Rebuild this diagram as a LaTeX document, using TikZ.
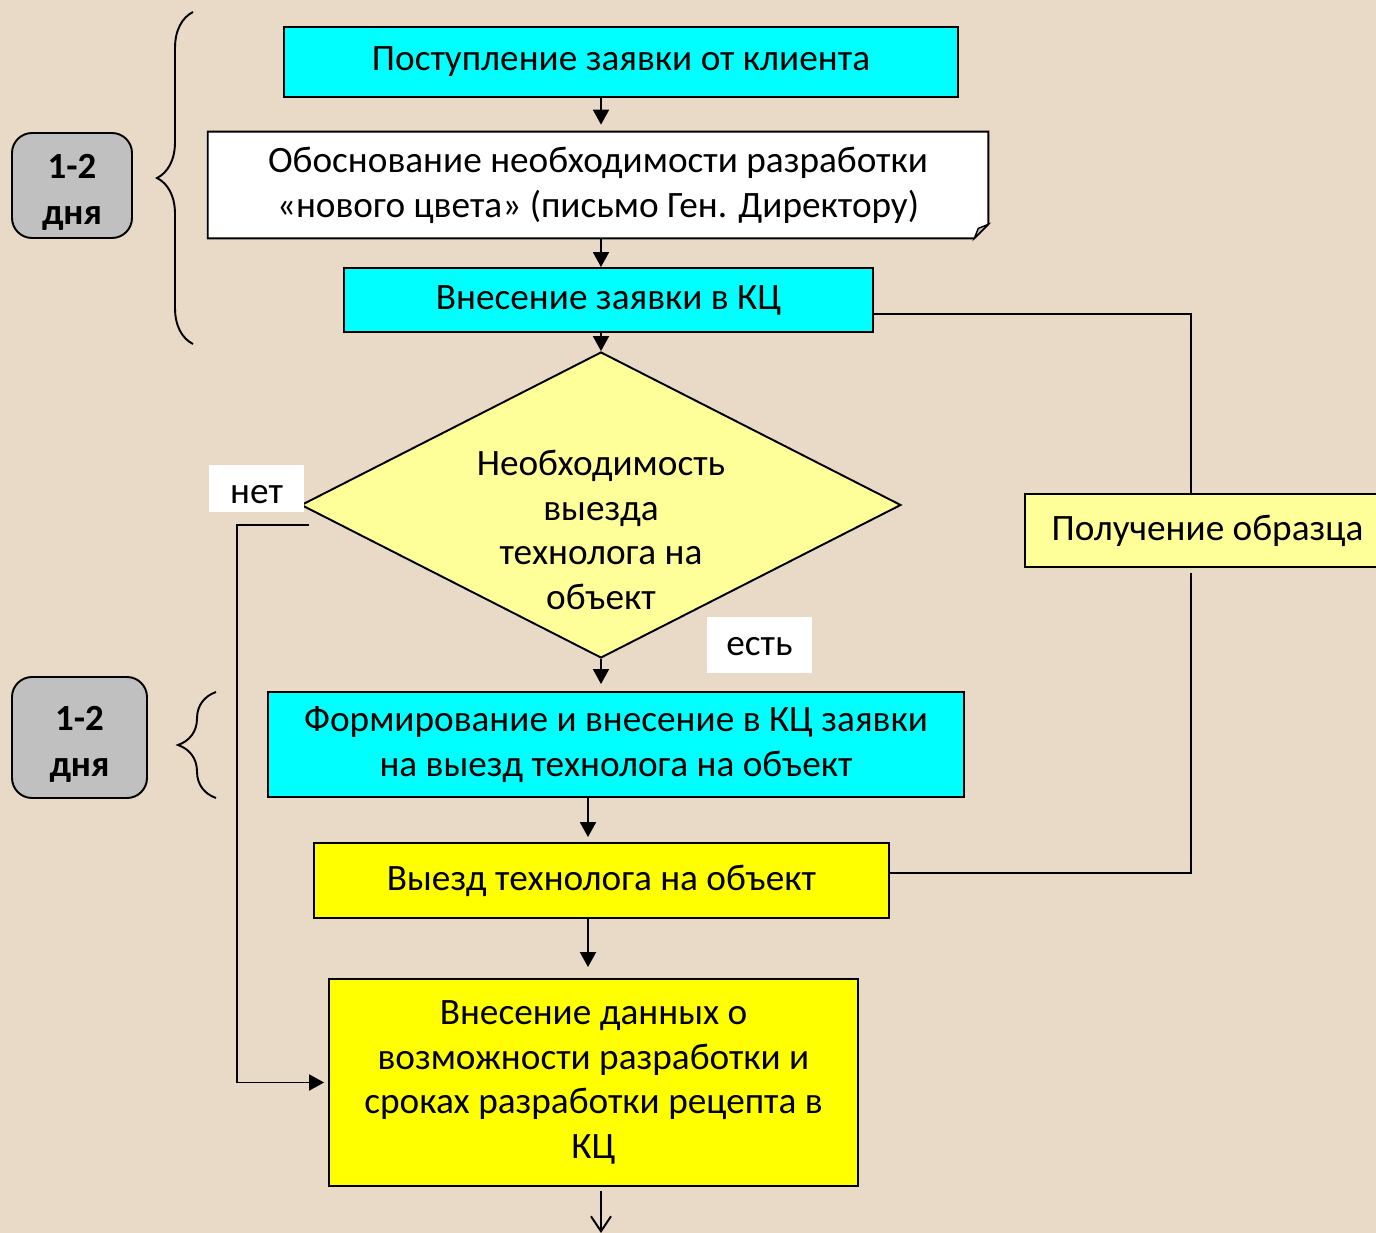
\documentclass[tikz,border=0pt]{standalone}
\usepackage{fontspec}
\setmainfont{Carlito}
\usepackage{tikz}
\usetikzlibrary{shapes.geometric,decorations.pathreplacing,arrows.meta}

\definecolor{bg}{RGB}{233,217,199}
\definecolor{zcyan}{RGB}{0,255,255}
\definecolor{zyellow}{RGB}{255,255,0}
\definecolor{zpale}{RGB}{255,255,153}
\definecolor{zgray}{RGB}{192,192,192}

\begin{document}
\begin{tikzpicture}[x=0.02cm,y=-0.02cm,
		every node/.style={font=\fontsize{21.2}{25.5}\selectfont,align=center},
		box/.style={draw,line width=1.1pt,inner sep=0pt},
		arr/.style={line width=1.1pt,-{Triangle[length=0.3cm,width=0.32cm]}},
		line/.style={line width=1.1pt},
		days/.style={draw,line width=1.1pt,fill=zgray,rounded corners=0.4cm,font=\fontsize{21}{26}\selectfont\bfseries},
		lbl/.style={fill=white,inner sep=0.06cm},
		brc/.style={decorate,line width=1.1pt}]
	\useasboundingbox (0,0) rectangle (1376,1233);
	\clip (0,0) rectangle (1376,1233);
	\fill[bg] (0,0) rectangle (1376,1233);

	\node[box,fill=zcyan,minimum width=13.48cm,minimum height=1.4cm] (req) at (621,62) {Поступление заявки от клиента};
	\node[fill=white,inner sep=0pt,minimum width=15.6cm,minimum height=2.12cm] (doc) at (598,185) {Обоснование необходимости разработки\\«нового цвета» (письмо Ген. Директору)};
	\fill[bg] ([xshift=-0.28cm]doc.south east) -- (doc.south east) -- ([yshift=0.28cm]doc.south east) -- cycle;
	\draw[line] ([xshift=-0.28cm]doc.south east) -- (doc.south west) -- (doc.north west) -- (doc.north east) -- ([yshift=0.28cm]doc.south east) -- cycle;
	\filldraw[fill=zgray,line width=0.8pt] ([xshift=-0.28cm]doc.south east) -- ([yshift=0.28cm]doc.south east) -- ([xshift=-0.2cm,yshift=0.2cm]doc.south east) -- cycle;
	\node[box,fill=zcyan,minimum width=10.58cm,minimum height=1.28cm] (kc) at (608.5,300) {Внесение заявки в КЦ};
	\node[diamond,draw,line width=1.1pt,fill=zpale,minimum width=12cm,minimum height=6.12cm,inner sep=0pt] (dia) at (601,505) {};
	\node (diat) at (601,530) {Необходимость\\выезда\\технолога на\\объект};
	\node[box,fill=zcyan,minimum width=13.92cm,minimum height=2.1cm] (form) at (616,744.5) {Формирование и внесение в КЦ заявки\\на выезд технолога на объект};
	\node[box,fill=zyellow,minimum width=11.5cm,minimum height=1.5cm] (trip) at (601.5,880.5) {Выезд технолога на объект};
	\node[box,fill=zyellow,minimum width=10.58cm,minimum height=4.14cm] (data) at (593.5,1082.5) {Внесение данных о\\возможности разработки и\\сроках разработки рецепта в\\КЦ};
	\node[box,fill=zpale,minimum width=7.3cm,minimum height=1.46cm] (obr) at (1207.5,530.5) {Получение образца};
	\node[lbl,minimum width=1.9cm,text height=0.72cm,text depth=0.1cm] (no) at (256.5,488.5) {нет};
	\node[lbl,minimum width=2.1cm,text height=0.71cm,text depth=0.29cm] (yes) at (759.5,645) {есть};
	\node[days,minimum width=2.4cm,minimum height=2.1cm] (d1) at (72,185.5) {\rule{0pt}{0.76cm}1-2\\дня};
	\node[days,minimum width=2.7cm,minimum height=2.42cm] (d2) at (79.5,737.5) {\rule{0pt}{0.76cm}1-2\\дня};

	\draw[brc,decoration={brace,amplitude=0.72cm}] (193,344) -- (193,12);
	\draw[brc,decoration={brace,amplitude=0.76cm}] (216,798) -- (216,692);

	\coordinate (ax) at (601,0);
	\coordinate (bx) at (588,0);
	\coordinate (rx) at (1191,0);
	\coordinate (out) at (601,1233);

	\draw[arr,shorten >=0.14cm] (req.south -| ax) -- (doc.north -| ax);
	\draw[arr] (doc.south -| ax) -- (kc.north -| ax);
	\draw[arr] (kc.south -| ax) -- (dia.north);
	\draw[arr,shorten >=0.14cm] (dia.south) -- (form.north -| ax);
	\draw[arr,shorten >=0.1cm] (form.south -| bx) -- (trip.north -| bx);
	\draw[arr,shorten >=0.22cm] (trip.south -| bx) -- (data.north -| bx);
	\draw[line,-{Straight Barb[length=0.3cm,width=0.4cm]},shorten <=0.08cm] (data.south -| out) -- (out);
	\draw[arr,shorten >=0.08cm] ([xshift=0.18cm,yshift=-0.4cm]dia.west) -- ++(-1.44cm,0) |- (data.west);
	\draw[line] ([yshift=-0.28cm]kc.east) -| (obr.north -| rx);
	\draw[line] (obr.south -| rx) ++(0,-0.1cm) |- ([yshift=0.15cm]trip.east);
\end{tikzpicture}
\end{document}
